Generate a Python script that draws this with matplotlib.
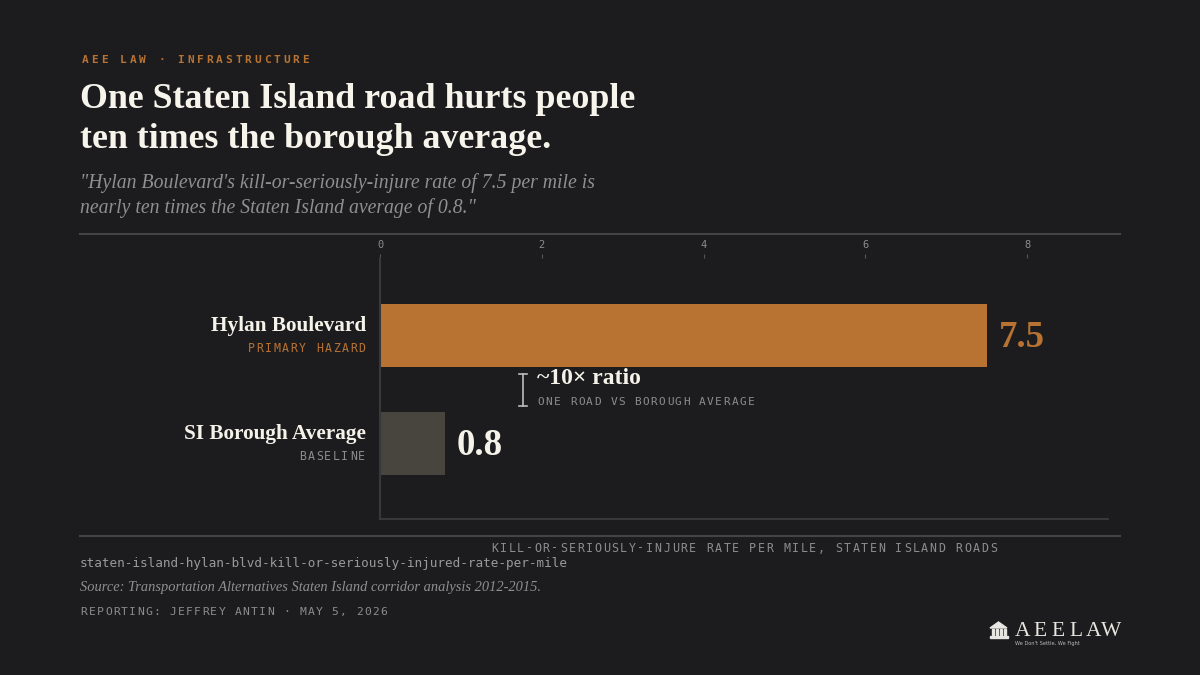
import numpy as np
import matplotlib.pyplot as plt
from matplotlib.lines import Line2D
from matplotlib.patches import Rectangle, Polygon

# data
labels = ["Hylan Boulevard", "SI Borough Average"]
sublabels = ["PRIMARY HAZARD", "BASELINE"]
values = [7.5, 0.8]
ticks = [0, 2, 4, 6, 8]

W, H = 1200, 675
BG = '#1c1c1e'
ORANGE = '#b87333'
GREY_BAR = '#48443e'
MUTED = '#8c8c8c'
RULE = '#444446'
SERIF = 'Liberation Serif'
MONO = 'DejaVu Sans Mono'

fig = plt.figure(figsize=(12, 6.75), dpi=100, facecolor=BG)


def fx(x):
    return x / W


def fy(y):
    return 1 - y / H


ax = fig.add_axes([fx(380), fy(519), fx(1108) - fx(380), fy(258) - fy(519)], facecolor=BG)


def spaced(s, xy, coords, dx, dy, step, align='left', **kw):
    # letter-spaced text, offsets in pixels (dy positive = down)
    n = len(s)
    if align == 'left':
        start = dx
    elif align == 'right':
        start = dx - n * step
    else:
        start = dx - n * step / 2
    for i, ch in enumerate(s):
        ax.annotate(ch, xy=xy, xycoords=coords,
                    xytext=((start + i * step + step / 2) * 0.72, -dy * 0.72),
                    textcoords='offset points', ha='center', va='center',
                    annotation_clip=False, **kw)


y = np.arange(len(values))
bar_h = 0.58
ax.barh(y, values, height=bar_h, color=[ORANGE, GREY_BAR])
ax.set_xlim(0, 9)
ax.set_ylim(1.7, -0.72)

ax.xaxis.tick_top()
ax.set_xticks(ticks)
ax.set_xticklabels([str(t) for t in ticks], family=MONO, fontsize=7.5, color=MUTED)
ax.tick_params(axis='x', length=3, width=0.8, color='#555555', pad=3)
ax.set_yticks([])
for side in ['top', 'right']:
    ax.spines[side].set_visible(False)
for side in ['left', 'bottom']:
    ax.spines[side].set_color('#38383a')
    ax.spines[side].set_linewidth(1.5)

# category labels
label_colors = [ORANGE, MUTED]
for i, (lab, sub) in enumerate(zip(labels, sublabels)):
    ax.annotate(lab, xy=(0, i), xycoords=('axes fraction', 'data'),
                xytext=(-14 * 0.72, 9.5 * 0.72), textcoords='offset points',
                ha='right', va='center', family=SERIF, fontweight='bold',
                fontsize=15.3, color='#f5f2ea')
    spaced(sub, (0, i), ('axes fraction', 'data'), -14, 12.5, 8.5,
           align='right', family=MONO, fontsize=8.3, color=label_colors[i])

# value labels
value_colors = [ORANGE, '#f5f2ea']
for i, v in enumerate(values):
    ax.annotate(f"{v}", xy=(v, i), xytext=(12 * 0.72, -2 * 0.72),
                textcoords='offset points', ha='left', va='center',
                family=SERIF, fontweight='bold', fontsize=26.5, color=value_colors[i])

# ratio annotation between bars
mid = 0.5
ax.plot([1.765, 1.765], [0.356, 0.653], color='#bbbbbb', lw=1.2)
ax.plot([1.715, 1.815], [0.356, 0.356], color='#bbbbbb', lw=1.2)
ax.plot([1.715, 1.815], [0.653, 0.653], color='#bbbbbb', lw=1.2)
ax.annotate("~10× ratio", xy=(0, mid), xycoords=('axes fraction', 'data'),
            xytext=(157 * 0.72, 11.5 * 0.72), textcoords='offset points',
            ha='left', va='center', family=SERIF, fontweight='bold',
            fontsize=17, color='#f5f2ea')
spaced("ONE ROAD VS BOROUGH AVERAGE", (0, mid), ('axes fraction', 'data'),
       157, 12.5, 8.07, family=MONO, fontsize=8, color=MUTED)

# x-axis label below the axes
spaced("KILL-OR-SERIOUSLY-INJURE RATE PER MILE, STATEN ISLAND ROADS",
       (0.5, 0), 'axes fraction', 0, 29, 8.6, align='center',
       family=MONO, fontsize=8.4, color=MUTED)

# header
spaced("AEE LAW · INFRASTRUCTURE", (80, H - 60), 'figure pixels', 0, 0, 9.6,
       family=MONO, fontsize=8, fontweight='bold', color=ORANGE)
fig.text(fx(80), fy(100), "One Staten Island road hurts people", family=SERIF,
         fontweight='bold', fontsize=25.8, color='#f7f4ec', va='center')
fig.text(fx(80), fy(140), "ten times the borough average.", family=SERIF,
         fontweight='bold', fontsize=25.8, color='#f7f4ec', va='center')
fig.text(fx(80), fy(183), "\"Hylan Boulevard's kill-or-seriously-injure rate of 7.5 per mile is",
         family=SERIF, style='italic', fontsize=14.2, color='#8f8f8f', va='center')
fig.text(fx(80), fy(208), "nearly ten times the Staten Island average of 0.8.\"",
         family=SERIF, style='italic', fontsize=14.2, color='#8f8f8f', va='center')

for ry in [234, 536]:
    fig.add_artist(Line2D([fx(80), fx(1120)], [fy(ry), fy(ry)], color=RULE, lw=1.5))

# footer
fig.text(fx(80), fy(564), "staten-island-hylan-blvd-kill-or-seriously-injured-rate-per-mile",
         family=MONO, fontsize=9.1, color='#9a9a9a', va='center')
fig.text(fx(80), fy(588), "Source: Transportation Alternatives Staten Island corridor analysis 2012-2015.",
         family=SERIF, style='italic', fontsize=10.4, color='#8f8f8f', va='center')
spaced("REPORTING: JEFFREY ANTIN · MAY 5, 2026", (80, H - 612), 'figure pixels', 0, 0, 8.1,
       family=MONO, fontsize=8.2, color=MUTED)

# logo
logo_c = '#e8e6e0'
fig.add_artist(Polygon([(fx(990), fy(628)), (fx(998.5), fy(622)), (fx(1007), fy(628))],
                       closed=True, color=logo_c, transform=fig.transFigure))
for cx in [991.5, 995.5, 999.5, 1003.5]:
    fig.add_artist(Rectangle((fx(cx), fy(635)), fx(2), fy(629) - fy(635), color=logo_c,
                             transform=fig.transFigure))
fig.add_artist(Rectangle((fx(989.5), fy(638)), fx(18), fy(636) - fy(638), color=logo_c,
                         transform=fig.transFigure))
spaced("AEELAW", (1014, H - 631), 'figure pixels', 0, 0, 17.6,
       family=SERIF, fontsize=15.5, color=logo_c)
fig.text(fx(1015), fy(643), "We Don't Settle, We Fight", family='DejaVu Sans',
         fontsize=3.6, color='#bbbbbb', va='center')

fig.savefig('out.png', dpi=100, facecolor=BG)
